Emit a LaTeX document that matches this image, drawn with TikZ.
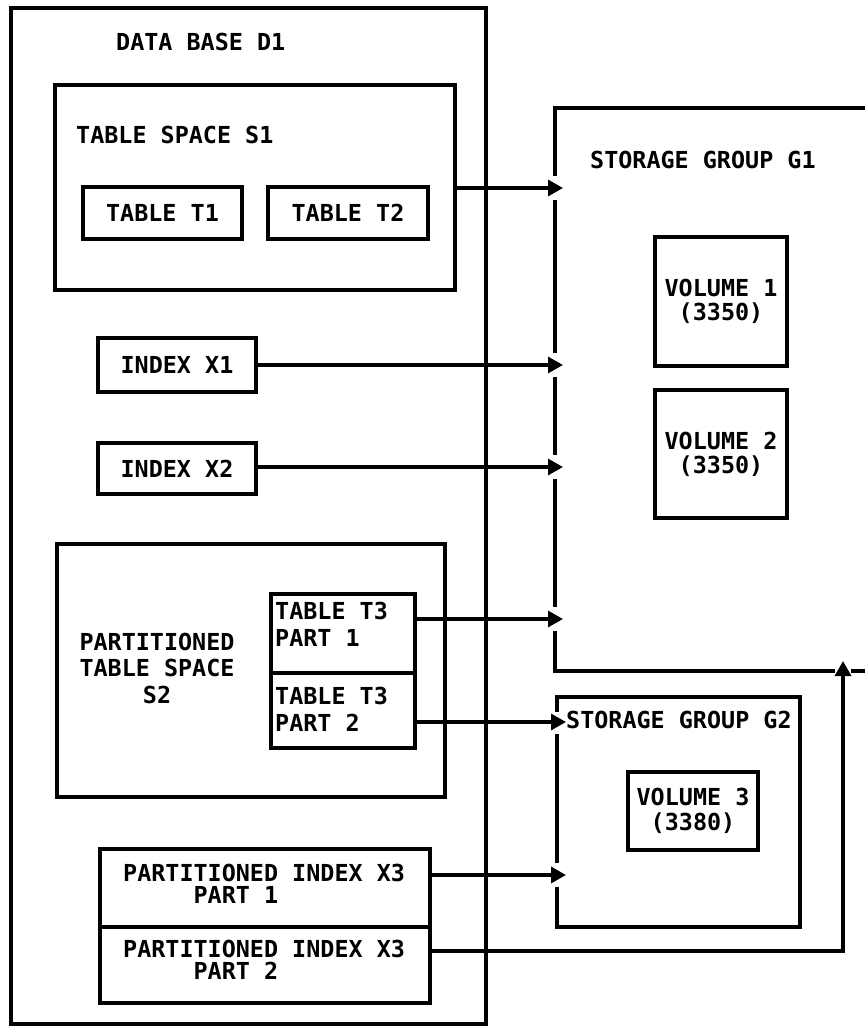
\documentclass[tikz,border=0pt]{standalone}
\usepackage{fontspec}
\newfontfamily\diafont{DejaVu Sans Mono}
\usetikzlibrary{arrows.meta}
\newcommand\mydiafont[1]{\diafont\bfseries\fontsize{23.4}{#1}\selectfont}
\tikzset{
  boxnode/.style={draw=black, line width=3.3pt, inner sep=0pt, rectangle},
  txt/.style={inner sep=0pt, font=\mydiafont{24}},
  arr/.style={line width=3.3pt, -{Triangle[length=15pt,width=16pt]}},
  gap/.style={fill=white, draw=none},
}
\begin{document}
\begin{tikzpicture}[x=1pt,y=-1pt]
\useasboundingbox (0,0) rectangle (864,1027);
\fill[white] (0,0) rectangle (864,1027);

% data base
\node[boxnode, minimum width=475pt, minimum height=1016pt] (db) at (248.5,516) {};
\node[txt, anchor=base west] (dbtitle) at (116,50.5) {DATA BASE D1};

% table space S1
\node[boxnode, minimum width=400pt, minimum height=205pt] (s1) at (255,187.5) {};
\node[txt, anchor=base west] (s1title) at (76,143.5) {TABLE SPACE S1};
\node[boxnode, minimum width=159pt, minimum height=52pt, font=\mydiafont{24}] (t1) at (162.5,213) {TABLE T1};
\node[boxnode, minimum width=160pt, minimum height=52pt, font=\mydiafont{24}] (t2) at (348,213) {TABLE T2};

% indexes
\node[boxnode, minimum width=158pt, minimum height=54pt, font=\mydiafont{24}] (x1) at (177,365) {INDEX X1};
\node[boxnode, minimum width=158pt, minimum height=51pt, font=\mydiafont{24}] (x2) at (177,468.5) {INDEX X2};

% partitioned table space S2
\node[boxnode, minimum width=388pt, minimum height=253pt] (s2) at (251,670.5) {};
\node[txt, align=center, font=\mydiafont{26.5}] (s2title) at (157,668) {PARTITIONED\\TABLE SPACE\\S2};
\node[boxnode, minimum width=144pt, minimum height=79pt] (t3a) at (343,633.5) {};
\node[boxnode, minimum width=144pt, minimum height=75pt] (t3b) at (343,710.5) {};
\node[txt, align=left, anchor=north west, font=\mydiafont{27}] (t3atext) at (275,602) {TABLE T3\\PART 1};
\node[txt, align=left, anchor=north west, font=\mydiafont{27}] (t3btext) at (275,686.5) {TABLE T3\\PART 2};

% partitioned index X3
\node[boxnode, minimum width=330pt, minimum height=78pt] (x3a) at (265,888) {};
\node[boxnode, minimum width=330pt, minimum height=76pt] (x3b) at (265,965) {};
\node[txt, align=left, anchor=north west, font=\mydiafont{22}] (x3atext) at (123,863.5) {PARTITIONED INDEX X3\\\hphantom{PARTI}PART 1};
\node[txt, align=left, anchor=north west, font=\mydiafont{22}] (x3btext) at (123,939.5) {PARTITIONED INDEX X3\\\hphantom{PARTI}PART 2};

% storage group G1
\node[boxnode, minimum width=345pt, minimum height=563pt] (g1) at (727.5,389.5) {};
\node[txt, anchor=base west] (g1title) at (590,168.5) {STORAGE GROUP G1};
\node[boxnode, minimum width=132pt, minimum height=129pt, align=center, font=\mydiafont{24}] (vol1) at (721,301.5) {VOLUME 1\\(3350)};
\node[boxnode, minimum width=132pt, minimum height=128pt, align=center, font=\mydiafont{24}] (vol2) at (721,454) {VOLUME 2\\(3350)};

% storage group G2
\node[boxnode, minimum width=243pt, minimum height=230pt] (g2) at (678.5,812) {};
\node[txt, anchor=base west] (g2title) at (566,728.5) {STORAGE GROUP G2};
\node[boxnode, minimum width=130pt, minimum height=78pt, align=center, font=\mydiafont{25}] (vol3) at (693,811) {VOLUME 3\\(3380)};

% arrow end points
\coordinate (e1) at (563,188);
\coordinate (e2) at (563,365);
\coordinate (e3) at (563,467);
\coordinate (e4) at (563,619);
\coordinate (e5) at (566,722);
\coordinate (e6) at (566,875);
\coordinate (c7) at (843,951);
\coordinate (e7) at (843,661);

% gaps in the storage group edges
\path[gap] (549,176) rectangle (561,200);
\path[gap] (549,353) rectangle (561,377);
\path[gap] (549,455) rectangle (561,479);
\path[gap] (549,607) rectangle (561,631);
\path[gap] (551,712) rectangle (563,734);
\path[gap] (551,863) rectangle (563,887);
\path[gap] (835,665) rectangle (851,677);

% connectors
\draw[arr] (s1.east |- e1) -- (e1);
\draw[arr] (x1.east |- e2) -- (e2);
\draw[arr] (x2.east |- e3) -- (e3);
\draw[arr] (t3a.east |- e4) -- (e4);
\draw[arr] (t3b.east |- e5) -- (e5);
\draw[arr] (x3a.east |- e6) -- (e6);
\draw[arr] (x3b.east |- c7) -- (c7) -- (e7);
\end{tikzpicture}
\end{document}
